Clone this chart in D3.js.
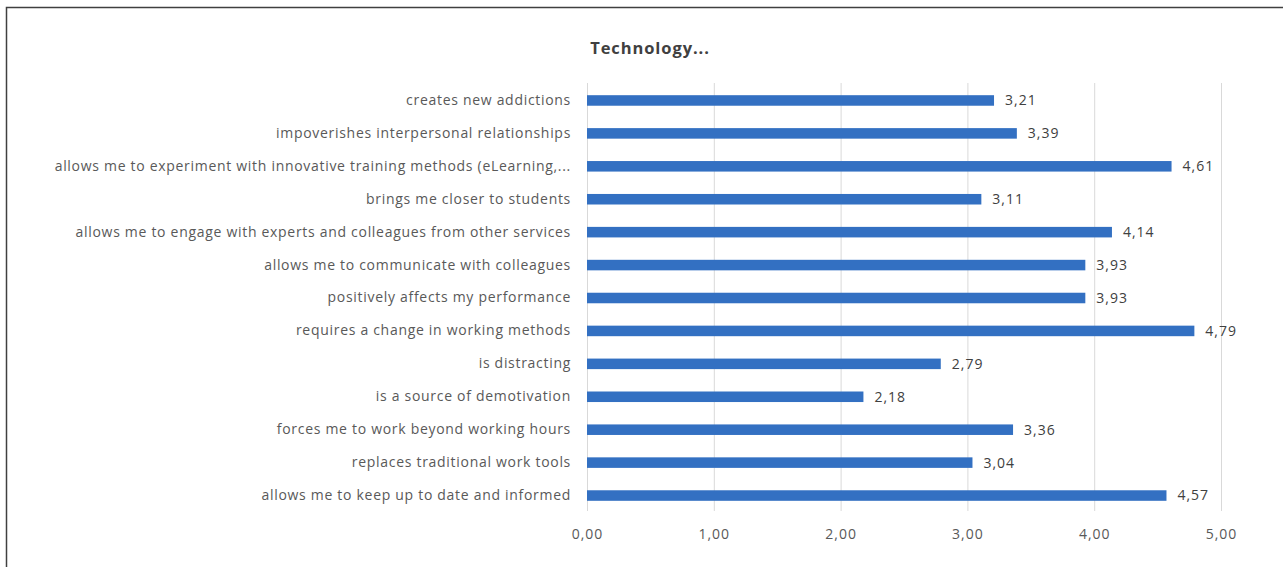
<!DOCTYPE html>
<html>
<head>
<meta charset="utf-8">
<script src="https://cdn.jsdelivr.net/npm/d3@7"></script>
<style>
  html, body { margin: 0; padding: 0; background: #fff; }
  svg { display: block; }
  text { font-family: "Open Sans", "Noto Sans", sans-serif; }
</style>
</head>
<body>
<svg id="chart" width="1283" height="567"></svg>
<script>
// Statements, top to bottom, and their mean scores
const categories = [
  "creates new addictions",
  "impoverishes interpersonal relationships",
  "allows me to experiment with innovative training methods (eLearning,...",
  "brings me closer to students",
  "allows me to engage with experts and colleagues from other services",
  "allows me to communicate with colleagues",
  "positively affects my performance",
  "requires a change in working methods",
  "is distracting",
  "is a source of demotivation",
  "forces me to work beyond working hours",
  "replaces traditional work tools",
  "allows me to keep up to date and informed"
];
const values = [3.21, 3.39, 4.61, 3.11, 4.14, 3.93, 3.93, 4.79, 2.79, 2.18, 3.36, 3.04, 4.57];
const tickValues = [0, 1, 2, 3, 4, 5];
const title = "Technology...";

const fmt = v => v.toFixed(2).replace(".", ",");

const svg = d3.select("#chart");
const W = 1283, H = 567;
const margin = { left: 587, right: 62, top: 84, bottom: 55 };

// frame
svg.append("path")
  .attr("d", `M6.5,${H} V7.5 H${W}`)
  .attr("fill", "none")
  .attr("stroke", "#404040")
  .attr("stroke-width", 1.5);

const x = d3.scaleLinear().domain([0, 5]).range([margin.left, W - margin.right]);
const y = d3.scaleBand().domain(categories).range([margin.top, H - margin.bottom]).paddingInner(0.68).paddingOuter(0.34);

// vertical gridlines
svg.append("g").selectAll("line").data(tickValues).join("line")
  .attr("x1", d => x(d) + 0.5).attr("x2", d => x(d) + 0.5)
  .attr("y1", margin.top - 1).attr("y2", H - margin.bottom - 1)
  .attr("stroke", "#d9d9d9").attr("stroke-width", 1);

// bottom axis labels
const xAxis = d3.axisBottom(x).tickValues(tickValues).tickFormat(fmt).tickSize(0).tickPadding(17);
const gx = svg.append("g").attr("transform", `translate(0,${H - margin.bottom})`).call(xAxis);
gx.select(".domain").remove();
gx.selectAll("text").attr("fill", "#595959").attr("font-size", 14)
  .attr("letter-spacing", "1px")
  .style("font-family", "\"Open Sans\", sans-serif");

// category labels
const yAxis = d3.axisLeft(y).tickSize(0).tickPadding(16);
const gy = svg.append("g").attr("transform", `translate(${margin.left},0)`).call(yAxis);
gy.select(".domain").remove();
gy.selectAll("text").attr("fill", "#595959").attr("font-size", 14)
  .attr("letter-spacing", "0.7px")
  .style("font-family", "\"Open Sans\", sans-serif");

// bars
svg.append("g").selectAll("rect").data(values).join("rect")
  .attr("x", x(0))
  .attr("y", (d, i) => y(categories[i]))
  .attr("width", d => x(d) - x(0))
  .attr("height", y.bandwidth())
  .attr("fill", "#3370c2");

// value labels
svg.append("g").selectAll("text").data(values).join("text")
  .attr("x", d => x(d) + 11)
  .attr("y", (d, i) => y(categories[i]) + y.bandwidth() / 2)
  .attr("dy", "0.35em")
  .attr("fill", "#404040")
  .attr("font-size", 14)
  .attr("letter-spacing", "1px")
  .text(fmt);

// title
svg.append("text")
  .attr("x", 650).attr("y", 54)
  .attr("text-anchor", "middle")
  .attr("font-size", 16.5)
  .attr("font-weight", "bold")
  .attr("letter-spacing", "0.9px")
  .attr("fill", "#404040")
  .text(title);
</script>
</body>
</html>
